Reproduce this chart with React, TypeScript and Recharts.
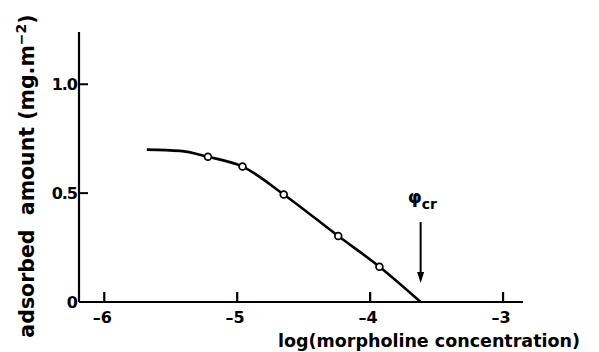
import React from "react";
import {
  ComposedChart,
  Line,
  Scatter,
  XAxis,
  YAxis,
  ReferenceLine,
  Label,
} from "recharts";

// measured points (log concentration, adsorbed amount)
const pointX = [-5.22, -4.96, -4.65, -4.24, -3.93];
const pointY = [0.667, 0.622, 0.494, 0.303, 0.162];

// drawn curve, including its flat start and the zero crossing
const curveX = [-5.68, -5.43, -5.22, -4.96, -4.65, -4.24, -3.93, -3.62];
const curveY = [0.7, 0.694, 0.667, 0.622, 0.494, 0.303, 0.162, 0];

const xTicks = [-6, -5, -4, -3];
const yTicks = [0, 0.5, 1.0];
const yTickLabels = ["0", "0.5", "1.0"];

// critical concentration marked by the arrow
const phiCr = -3.62;
const arrowTop = 0.367;
const arrowTip = 0.087;

const points = pointX.map((x, i) => ({ x, y: pointY[i] }));
const curve = curveX.map((x, i) => ({ x, y: curveY[i] }));

const FONT = "'DejaVu Sans', sans-serif";
const INK = "#000";

const XTick = (props: any) => {
  const { x, y, payload } = props;
  const v = payload.value as number;
  return (
    <g>
      <line x1={x} y1={y} x2={x} y2={y - 10} stroke={INK} strokeWidth={2.2} />
      <text
        x={x - 2}
        y={y + 21}
        textAnchor="middle"
        fontFamily={FONT}
        fontWeight={700}
        fontSize={16}
        fill={INK}
      >
        {"\u2013" + Math.abs(v)}
      </text>
    </g>
  );
};

const YTick = (props: any) => {
  const { x, y, payload } = props;
  const idx = yTicks.indexOf(payload.value);
  return (
    <g>
      <line x1={x} y1={y} x2={x + 9} y2={y} stroke={INK} strokeWidth={2} />
      <text
        x={x - 2}
        y={y + 6}
        textAnchor="end"
        fontFamily={FONT}
        fontWeight={700}
        fontSize={16}
        letterSpacing={-1}
        fill={INK}
      >
        {yTickLabels[idx] ?? payload.value}
      </text>
    </g>
  );
};

const HollowDot = (props: any) => {
  const { cx, cy } = props;
  return <circle cx={cx} cy={cy} r={3.4} fill="#fff" stroke={INK} strokeWidth={1.7} />;
};

const ArrowShape = (props: any) => {
  const { x1, y1, x2, y2 } = props;
  return (
    <g>
      <line x1={x1} y1={y1} x2={x2} y2={y2 - 9} stroke={INK} strokeWidth={2} />
      <path d={`M${x2 - 3.5},${y2 - 11} L${x2 + 3.5},${y2 - 11} L${x2},${y2} Z`} fill={INK} />
      <text x={x1 - 13} y={y1 - 19} fontFamily={FONT} fontWeight={700} fill={INK}>
        <tspan fontSize={18}>{"\u03C6"}</tspan>
        <tspan fontSize={14} dy={6}>
          cr
        </tspan>
      </text>
    </g>
  );
};

export default function App() {
  return (
    <div style={{ position: "absolute", left: 0, top: 0, background: "#fff" }}>
      <ComposedChart
        width={599}
        height={352}
        margin={{ top: 32, right: 76, bottom: 0, left: 0 }}
      >
        <XAxis
          dataKey="x"
          type="number"
          domain={[-6.19, -2.85]}
          ticks={xTicks}
          allowDataOverflow
          height={50}
          tickSize={0}
          tickMargin={0}
          tick={<XTick />}
          axisLine={{ stroke: INK, strokeWidth: 2.2 }}
          tickLine={false}
        >
          <Label
            content={() => (
              <text
                x={429}
                y={347}
                textAnchor="middle"
                fontFamily={FONT}
                fontWeight={700}
                fontSize={17}
                textLength={302}
                lengthAdjust="spacingAndGlyphs"
                fill={INK}
              >
                log(morpholine concentration)
              </text>
            )}
          />
        </XAxis>
        <YAxis
          dataKey="y"
          type="number"
          domain={[0, 1.24]}
          ticks={yTicks}
          allowDataOverflow
          width={79}
          tickSize={0}
          tickMargin={0}
          tick={<YTick />}
          axisLine={{ stroke: INK, strokeWidth: 2.2 }}
          tickLine={false}
        >
          <Label
            content={() => (
              <text
                x={34}
                y={176}
                transform="rotate(-90 34 176)"
                textAnchor="middle"
                fontFamily={FONT}
                fontWeight={700}
                fontSize={20.5}
                fill={INK}
                style={{ whiteSpace: "pre" }}
              >
                <tspan>{"adsorbed  amount (mg.m"}</tspan>
                <tspan fontSize={14} dy={-8}>
                  {"\u22122"}
                </tspan>
                <tspan dy={8}>)</tspan>
              </text>
            )}
          />
        </YAxis>
        <Line
          data={curve}
          dataKey="y"
          type="monotone"
          stroke={INK}
          strokeWidth={2.6}
          dot={false}
          activeDot={false}
          isAnimationActive={false}
        />
        <Scatter
          data={points}
          dataKey="y"
          shape={<HollowDot />}
          isAnimationActive={false}
        />
        <ReferenceLine
          segment={[
            { x: phiCr, y: arrowTop },
            { x: phiCr, y: arrowTip },
          ]}
          shape={<ArrowShape />}
        />
      </ComposedChart>
    </div>
  );
}
